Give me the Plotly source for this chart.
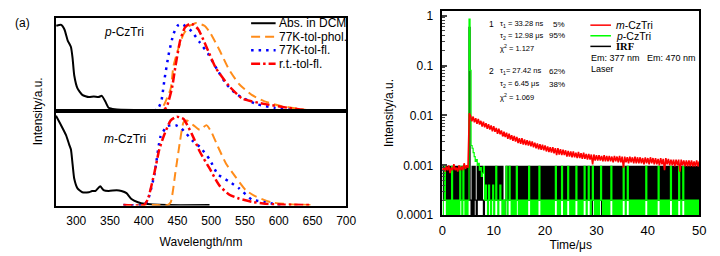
import numpy as np
import plotly.graph_objects as go

W, H = 720, 256
FONT = "Liberation Sans, Arial, sans-serif"

# ---------------- data: left panel (normalised spectra) ----------------
# upper: p-CzTri
abs_p_wl = [270.5, 277.7, 282.6, 287.4, 292.2, 294.6, 297.1, 301.9, 309, 318.7, 326, 333, 338, 343, 348, 357, 386, 420, 460, 497.5]
abs_p_int = [0.92, 0.93, 0.88, 0.76, 0.69, 0.57, 0.38, 0.24, 0.17, 0.146, 0.153, 0.146, 0.16, 0.10, 0.03, 0.014, 0.005, 0.003, 0.002, 0.0]
phol_p_wl = [370, 400, 425, 430, 440, 444, 452, 459, 468, 478, 490, 498, 512, 526, 541, 560, 579, 603, 629, 648]
phol_p_int = [0, 0, 0.01, 0.06, 0.24, 0.48, 0.69, 0.83, 0.92, 0.95, 0.92, 0.85, 0.66, 0.45, 0.29, 0.17, 0.10, 0.05, 0.02, 0.0]
fl77_p_wl = [370, 400, 420, 426, 431, 437, 444, 450, 456, 463, 471, 483, 495, 510, 522, 539, 567, 594, 629]
fl77_p_int = [0, 0, 0.01, 0.10, 0.35, 0.61, 0.83, 0.92, 0.94, 0.91, 0.86, 0.74, 0.62, 0.43, 0.29, 0.17, 0.07, 0.03, 0.0]
rt_p_wl = [370, 400, 430, 435, 442, 447, 454, 461, 468, 474, 481, 493, 507, 526, 546, 580, 614, 643]
rt_p_int = [0, 0, 0.005, 0.06, 0.25, 0.48, 0.76, 0.90, 0.94, 0.93, 0.88, 0.69, 0.46, 0.27, 0.13, 0.07, 0.03, 0.0]

# lower: m-CzTri
abs_m_wl = [270, 277.7, 284.9, 289.7, 292.2, 294.6, 297.1, 301.9, 309, 318.7, 323.5, 328.3, 335.5, 340.4, 348, 360, 367, 374.5, 381.8, 391.5, 401, 435, 497.5]
abs_m_int = [0.95, 0.847, 0.744, 0.641, 0.59, 0.436, 0.28, 0.178, 0.137, 0.137, 0.15, 0.15, 0.20, 0.16, 0.15, 0.158, 0.15, 0.127, 0.065, 0.031, 0.014, 0.0, 0.0]
phol_m_wl = [370, 420, 435, 440, 447, 454, 459, 464, 473.5, 483, 493, 500, 510, 522, 536, 551, 565, 589, 613, 647]
phol_m_int = [0, 0, 0.0, 0.03, 0.35, 0.69, 0.88, 0.90, 0.85, 0.80, 0.85, 0.78, 0.62, 0.44, 0.30, 0.16, 0.095, 0.03, 0.01, 0.0]
fl77_m_wl = [370, 400, 406, 416, 425, 435, 447, 455, 463, 473, 483, 497.5, 509.6, 526.5, 541, 560, 580, 603]
fl77_m_int = [0, 0, 0.05, 0.33, 0.73, 0.84, 0.85, 0.82, 0.76, 0.68, 0.62, 0.487, 0.33, 0.25, 0.18, 0.06, 0.03, 0.0]
rt_m_wl = [370, 400, 406, 416, 423, 430, 440, 449, 459, 471, 483, 498, 512, 527, 541, 560, 580, 600, 647]
rt_m_int = [0, 0, 0.06, 0.35, 0.59, 0.74, 0.90, 0.94, 0.915, 0.76, 0.57, 0.384, 0.21, 0.11, 0.07, 0.035, 0.014, 0.007, 0.0]

wl_ticks = [300, 350, 400, 450, 500, 550, 600, 650, 700]

# ---------------- data: right panel (decays) ----------------
# detector levels (photon-count quantisation)
levels = {"Z": 1e-4, "L": 2e-4, "M": 4e-4, "H": 9.5e-4, "S": 0.58}
irf_step = 0.2  # us per channel
irf_code = (
    "HLHLHLHLHLHLHLHLHLHLHLHLH" "L" "S" "LZHZHLZHL"
    "HLHLZLHLHLHLHLHLHLHL" "HLHZZLHLHLHLHLHLHLHL" "HLHLHLHLHLHLHLHLHLHL"
    "HLHLHLHLHZHLHLHLHZHL" "HLHLHLHLHLHLHLHLHLHZ" "HLHLHLHLHZHLHLHLHLHZ"
    "HLHLHLHLHLHLHLHLHLHL" "HLHLHLHLHLHLHLHLHLHL" "HLHLHLHLHLHLHLHLHLHL"
    "HLHLHLHLHLHLHLHLHLHL" "HLHLHLHLHLHLHLH"
)
green_pre_code = "ZLHLZLZLZHZLZLZLZHLZHLZLZL"
green_spike = [8500, 800, 25, 22, 18, 15, 12, 13, 10, 11, 8, 9, 6, 7]  # x1e-4
green_post_code = (
    "HLMLZMLZLMZLHLZLMLZL" "ZLHZLHLZLZLZHLZLZLZL" "ZLZLHLZLZLZLZLHLZLZL"
    "ZLZLZLZLZLHLZLZLHLZL" "ZLHLZLZLZLHLZLZLZLHL" "ZLHLZLHLZLZLZLHLZLZL"
    "ZLZLHLZLZLZLZLZLHLZL" "HLZLZLZLZLZLZLZLZLHL" "ZLZLZLZLZLHLZLZLZLZL"
    "ZLHLZLZLZLHLZLHLZLZL" "ZLZLZLZLZLZ"
)
red_step = 0.25
red_counts = [  # x1e-4, t = 0 ... 50 us
    8, 9, 7.5, 9.5, 8, 10, 7, 9, 8, 10.5, 8, 9, 7.5, 10, 8, 9.5, 8, 11, 8.5, 10, 9,
    110,
    99, 76, 95, 73, 88, 68, 85, 66,
    78, 60, 75, 58, 70, 54, 67, 52,
    63, 48, 61, 47, 56, 43, 54, 42,
    50, 38, 47, 37, 45, 34, 43, 33,
    40, 31, 39, 30, 37, 28, 35, 27,
    35, 26, 33, 25.5, 32, 25, 31, 24,
    30, 23, 28.5, 22, 27.5, 21, 26.5, 20.5,
    26, 20, 25, 19, 24, 18.5, 23, 18,
    23, 17.5, 22, 16, 22, 16.5, 21, 16,
    20.5, 16, 20, 15, 19.5, 15, 19, 14.5,
    19, 14.5, 18, 14, 18.5, 14, 17.5, 13.5,
    18, 13.5, 17, 13, 17, 13, 16.5, 10.5,
    16.5, 12.5, 16, 12.5, 16, 12.5, 15.5, 12,
    16, 12, 15.5, 12, 15.5, 12, 15, 11.5,
    15.5, 12, 15, 11.5, 15.5, 11.5, 15, 9,
    15, 11.5, 14.5, 11, 15, 11.5, 14.5, 11,
    15, 11, 14.5, 11, 14.5, 11, 14, 10.5,
    14.5, 11, 14, 10.5, 14.5, 11, 14, 10.5,
    14, 10.5, 13.5, 10, 14, 10.5, 13.5, 8,
    14, 10.5, 13.5, 10, 13, 10, 13, 9.5,
    13, 10, 13, 7.5, 13, 10, 12.5, 9.5,
    12.5, 9.5, 12.5, 9.5, 12.5, 9.5, 12, 9.5,
    12.5, 9.5, 12,
]
time_ticks = [0, 10, 20, 30, 40, 50]
decay_tickvals = [1e-4, 1e-3, 1e-2, 1e-1, 1]
decay_ticktext = ["0.0001", "0.001", "0.01", "0.1", "1"]

irf_vals = [levels[c] for c in irf_code]
irf_t = np.arange(len(irf_vals)) * irf_step
green_vals = [levels[c] for c in green_pre_code] + [v * 1e-4 for v in green_spike] + [levels[c] for c in green_post_code]
green_t = np.arange(len(green_vals)) * irf_step
red_vals = [v * 1e-4 for v in red_counts]
red_t = np.arange(len(red_vals)) * red_step

# ---------------- colours / styles ----------------
C_ORANGE = "#FF8C1A"
C_BLUE = "#0000FF"
C_RED = "#FF0000"
C_GREEN = "#00FF00"
DASH_PHOL = "9px,5px"
DASH_FL = "2.5px,5px"
DASH_RT = "9px,3px,2.5px,3px"

fig = go.Figure()

def spec(x, y, color, dash, width, ax):
    fig.add_trace(go.Scatter(x=x, y=y, mode="lines", xaxis=ax[0], yaxis=ax[1], showlegend=False,
                             line=dict(color=color, dash=dash, width=width, shape="spline", smoothing=0.5)))

for ax, d in ((("x", "y"), (abs_p_wl, abs_p_int, phol_p_wl, phol_p_int, fl77_p_wl, fl77_p_int, rt_p_wl, rt_p_int)),
              (("x2", "y2"), (abs_m_wl, abs_m_int, phol_m_wl, phol_m_int, fl77_m_wl, fl77_m_int, rt_m_wl, rt_m_int))):
    spec(d[0], d[1], "black", "solid", 2, ax)
    spec(d[2], d[3], C_ORANGE, DASH_PHOL, 2, ax)
    spec(d[4], d[5], C_BLUE, DASH_FL, 2.5, ax)
    spec(d[6], d[7], C_RED, DASH_RT, 2.5, ax)

for tt, vv, col, shp, wd in ((irf_t, irf_vals, "black", "hv", 1.2), (green_t, green_vals, C_GREEN, "hv", 1.2),
                             (red_t, red_vals, C_RED, "linear", 1.6)):
    fig.add_trace(go.Scatter(x=tt, y=vv, mode="lines", xaxis="x3", yaxis="y3", showlegend=False,
                             line=dict(color=col, width=wd, simplify=False, shape=shp)))

def px(x):
    return x / W

def py(y):
    return 1 - y / H

frame = dict(showline=True, mirror=True, linecolor="black", linewidth=1.5, showgrid=False, zeroline=False)
tickfont = dict(family=FONT, size=12, color="black")
L_DOM = [px(53), px(349)]

fig.update_layout(
    width=W, height=H, margin=dict(l=0, r=0, t=0, b=0),
    paper_bgcolor="white", plot_bgcolor="white",
    font=dict(family=FONT, size=12, color="black"),
    xaxis=dict(domain=L_DOM, anchor="y", range=[270, 700], showticklabels=False, ticks="", **frame),
    yaxis=dict(domain=[py(113), py(17)], anchor="x", range=[-0.005, 1.0], showticklabels=False, ticks="", **frame),
    xaxis2=dict(domain=L_DOM, anchor="y2", range=[270, 700], tickvals=wl_ticks, ticks="", tickfont=tickfont,
                ticklabelstandoff=3,
                title=dict(text="Wavelength/nm", font=dict(family=FONT, size=12), standoff=11), **frame),
    yaxis2=dict(domain=[py(211), py(113)], anchor="x2", range=[-0.005, 1.0], showticklabels=False, ticks="", **frame),
    xaxis3=dict(domain=[px(447), px(709)], anchor="y3", range=[0, 50], tickvals=time_ticks, ticks="",
                tickfont=dict(family=FONT, size=13, color="black"), ticklabelstandoff=2,
                title=dict(text="Time/μs", font=dict(family=FONT, size=12), standoff=0), **frame),
    yaxis3=dict(domain=[py(221), py(9)], anchor="x3", type="log", range=[-4, 0.1],
                tickvals=decay_tickvals, ticktext=decay_ticktext, ticks="inside", ticklen=5, tickwidth=1.5,
                ticklabelstandoff=5, tickfont=tickfont,
                minor=dict(ticks="inside", ticklen=3, tickwidth=1, dtick="D1"),
                title=dict(text="Intensity/a.u.", font=dict(family=FONT, size=12), standoff=0), **frame),
)

shapes = []
annos = []

def text(x, y, s, size=12, anchor="left", family=FONT, angle=0):
    annos.append(dict(x=px(x), y=py(y), xref="paper", yref="paper", text=s, showarrow=False,
                      xanchor=anchor, yanchor="middle", textangle=angle,
                      font=dict(family=family, size=size, color="black")))

def legline(x0, x1, y, color, dash, width):
    shapes.append(dict(type="line", xref="paper", yref="paper", x0=px(x0), x1=px(x1), y0=py(y), y1=py(y),
                       line=dict(color=color, dash=dash, width=width)))

# left legend
for yy, col, dash, wdt, lab in ((22, "black", "solid", 2, "Abs. in DCM"),
                                (36, C_ORANGE, DASH_PHOL, 2, "77K-tol-phol."),
                                (50, C_BLUE, DASH_FL, 2.5, "77K-tol-fl."),
                                (64, C_RED, DASH_RT, 2.5, "r.t.-tol-fl.")):
    legline(252, 277, yy, col, dash, wdt)
    text(278, yy, lab, 12)

text(19, 22, "(a)", 12, "center")
text(100, 31, "<i>p</i>-CzTri", 12)
text(100, 142, "<i>m</i>-CzTri", 12)
text(35, 113, "Intensity/a.u.", 12, "center", angle=-90)

# right legend
for yy, col, lab, fam in ((24, C_RED, "<i>m</i>-CzTri", FONT),
                          (35, C_GREEN, "<i>p</i>-CzTri", FONT),
                          (46, "black", "<b>IRF</b>", "Liberation Serif, Times New Roman, serif")):
    legline(598, 619, yy, col, "solid", 1.5)
    text(622, yy, lab, 10.5, family=fam)
text(597, 58, "Em: 377 nm   Em: 470 nm", 9)
text(597, 69, "Laser", 9)

# fit results
SF = 7.5
text(493, 23, "1", 8.5)
text(504, 23, "τ<sub>1</sub> = 33.28 ns", SF)
text(574, 23, "5%", 8, "right")
text(504, 35, "τ<sub>2</sub> = 12.98 μs", SF)
text(574, 35, "95%", 8, "right")
text(504, 48, "χ<sup>2</sup> = 1.127", SF)
text(493, 72, "2", 8.5)
text(504, 72, "τ<sub>1</sub>= 27.42 ns", SF)
text(574, 72, "62%", 8, "right")
text(504, 85, "τ<sub>2</sub> = 6.45 μs", SF)
text(574, 85, "38%", 8, "right")
text(504, 98, "χ<sup>2</sup> = 1.069", SF)

fig.update_layout(shapes=shapes, annotations=annos)
fig.write_html("out.html", config={"displayModeBar": False},
               post_script="document.body.style.margin='0px';")
